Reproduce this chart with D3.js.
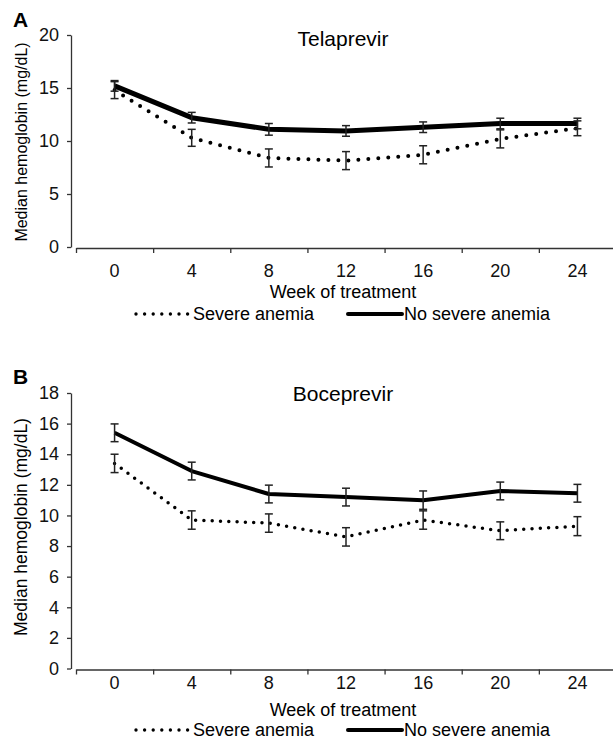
<!DOCTYPE html>
<html>
<head>
<meta charset="utf-8">
<script src="https://cdn.jsdelivr.net/npm/d3@7"></script>
<style>
  body { margin: 0; background: #fff; }
  svg { display: block; font-family: "Liberation Sans", Arial, sans-serif; }
  .axis path, .axis line { stroke: #333; stroke-width: 1.3; }
  .axis text { font-size: 18px; fill: #111; }
</style>
</head>
<body>
<svg id="chart" width="613" height="741"></svg>
<script>
"use strict";

/*********************
*********************/

var weeks = [0, 4, 8, 12, 16, 20, 24];

// telaprevir panel
var telaSevere = [14.8, 10.3, 8.4, 8.15, 8.7, 10.2, 11.2];
var telaSevereErr = [0.8, 0.8, 0.85, 0.85, 0.85, 0.85, 0.7];
var telaNoSevere = [15.2, 12.2, 11.1, 10.95, 11.3, 11.65, 11.65];
var telaNoSevereErr = [0.5, 0.5, 0.55, 0.5, 0.5, 0.5, 0.5];
var telaTicks = [0, 5, 10, 15, 20];

// boceprevir panel
var bocSevere = [13.4, 9.7, 9.5, 8.6, 9.7, 9.0, 9.3];
var bocSevereErr = [0.6, 0.6, 0.6, 0.6, 0.6, 0.58, 0.62];
var bocNoSevere = [15.4, 12.9, 11.4, 11.2, 11.0, 11.6, 11.45];
var bocNoSevereErr = [0.58, 0.58, 0.58, 0.58, 0.6, 0.58, 0.58];
var bocTicks = [0, 2, 4, 6, 8, 10, 12, 14, 16, 18];

var legendLabels = ["Severe anemia", "No severe anemia"];


var svg = d3.select("#chart");

// shared x scale: labels sit in the middle of each band, ticks on the band edges
var x = d3.scaleBand().domain(weeks).range([76, 616]);
var xEdge = d3.scaleLinear().domain([0, weeks.length]).range([76, 616]);


/***********************
*** DRAW ONE PANEL ***
***********************/

var drawPanel = function(p) {

    var y = d3.scaleLinear().domain([0, p.ticks[p.ticks.length - 1]]).range([p.bottom, p.top]);
    var g = svg.append("g");

    //panel letter
    g.append("text")
      .attr("x", 13).attr("y", p.letterY)
      .attr("font-size", "21px").attr("font-weight", "bold")
      .text(p.letter);

    //panel title
    g.append("text")
      .attr("x", 343).attr("y", p.top + p.titleDy)
      .attr("text-anchor", "middle").attr("dominant-baseline", "central")
      .attr("font-size", "21px")
      .text(p.title);

    //y axis
    g.append("g")
      .attr("class", "axis")
      .attr("transform", "translate(71,0)")
      .call(d3.axisLeft(y).tickValues(p.ticks).tickSize(4).tickSizeOuter(0).tickPadding(8));

    //y axis title
    g.append("text")
      .attr("transform", "translate(21," + p.labelMid + ") rotate(-90)")
      .attr("text-anchor", "middle").attr("dominant-baseline", "central")
      .attr("font-size", p.labelSize)
      .text("Median hemoglobin (mg/dL)");

    //x axis: edge ticks first, then labels
    var xAxisY = y(0) + 1;
    g.append("g")
      .attr("class", "axis")
      .attr("transform", "translate(0," + xAxisY + ")")
      .call(d3.axisBottom(xEdge).ticks(weeks.length).tickFormat("").tickSize(5).tickSizeOuter(0));

    g.append("g")
      .attr("class", "axis")
      .attr("transform", "translate(0," + xAxisY + ")")
      .call(d3.axisBottom(x).tickSize(0).tickPadding(p.labelPad))
      .call(function(a) { a.select(".domain").remove(); });

    g.append("text")
      .attr("x", 343).attr("y", p.weekY)
      .attr("text-anchor", "middle").attr("dominant-baseline", "central")
      .attr("font-size", "18px")
      .text("Week of treatment");

    var cx = function(i) { return x(weeks[i]) + x.bandwidth() / 2; };

    //lines
    var line = d3.line()
      .x(function(d, i) { return cx(i); })
      .y(function(d) { return y(d); });

    g.append("path")
      .datum(p.severe)
      .attr("d", line)
      .attr("fill", "none")
      .attr("stroke", "#000")
      .attr("stroke-width", p.dotW)
      .attr("stroke-linecap", "round")
      .attr("stroke-dasharray", "0," + p.dotGap);

    g.append("path")
      .datum(p.noSevere)
      .attr("d", line)
      .attr("fill", "none")
      .attr("stroke", "#000")
      .attr("stroke-width", p.solidW)
      .attr("stroke-linejoin", "round");

    //error bars for both series
    [[p.severe, p.severeErr], [p.noSevere, p.noSevereErr]].forEach(function(s) {
        var bars = g.append("g")
          .attr("stroke", "#222")
          .attr("stroke-width", 1.5)
          .attr("fill", "none");

        s[0].forEach(function(v, i) {
            var hi = y(v + s[1][i]);
            var lo = y(v - s[1][i]);
            bars.append("line").attr("x1", cx(i)).attr("x2", cx(i)).attr("y1", hi).attr("y2", lo);
            bars.append("line").attr("x1", cx(i) - 4).attr("x2", cx(i) + 4).attr("y1", hi).attr("y2", hi);
            bars.append("line").attr("x1", cx(i) - 4).attr("x2", cx(i) + 4).attr("y1", lo).attr("y2", lo);
        });
    });

    //legend
    var ly = p.legendY;
    var lg = g.append("g");

    lg.append("line")
      .attr("x1", 136).attr("x2", 188).attr("y1", ly).attr("y2", ly)
      .attr("stroke", "#000").attr("stroke-width", 3.4)
      .attr("stroke-linecap", "round").attr("stroke-dasharray", "0,8.6");

    lg.append("text")
      .attr("x", 193).attr("y", ly)
      .attr("dominant-baseline", "central").attr("font-size", "18px")
      .text(legendLabels[0]);

    lg.append("line")
      .attr("x1", 348).attr("x2", 402).attr("y1", ly).attr("y2", ly)
      .attr("stroke", "#000").attr("stroke-width", 4)
      .attr("stroke-linecap", "round");

    lg.append("text")
      .attr("x", 404).attr("y", ly)
      .attr("dominant-baseline", "central").attr("font-size", "18px")
      .text(legendLabels[1]);
}


/*******************
*** BOTH PANELS ***
*******************/

drawPanel({
    letter: "A", letterY: 27, title: "Telaprevir", titleDy: 3,
    top: 35, bottom: 247, ticks: telaTicks, labelMid: 142, labelSize: "16px",
    labelPad: 16, weekY: 292, legendY: 314,
    severe: telaSevere, severeErr: telaSevereErr,
    noSevere: telaNoSevere, noSevereErr: telaNoSevereErr,
    dotW: 4, dotGap: 10, solidW: 5
});

drawPanel({
    letter: "B", letterY: 384, title: "Boceprevir", titleDy: 0,
    top: 393, bottom: 668.5, ticks: bocTicks, labelMid: 527, labelSize: "17.5px",
    labelPad: 7, weekY: 710, legendY: 730,
    severe: bocSevere, severeErr: bocSevereErr,
    noSevere: bocNoSevere, noSevereErr: bocNoSevereErr,
    dotW: 3.5, dotGap: 8.3, solidW: 4
});

</script>
</body>
</html>
